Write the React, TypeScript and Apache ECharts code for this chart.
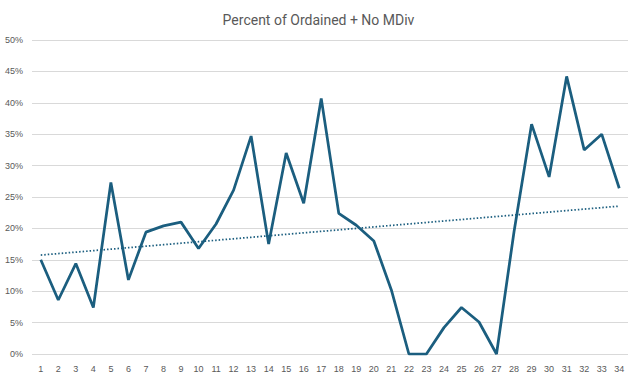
import React, { useEffect, useRef } from "react";
import * as echarts from "echarts";

const categories = Array.from({ length: 34 }, (_, i) => String(i + 1));
const values = [
  15.0, 8.6, 14.4, 7.4, 27.3, 11.8, 19.4, 20.4, 21.0, 16.8,
  20.7, 26.1, 34.7, 17.5, 32.0, 24.0, 40.7, 22.4, 20.5, 18.0,
  10.2, 0, 0, 4.2, 7.4, 5.1, 0, 19.5, 36.6, 28.2,
  44.2, 32.5, 35.0, 26.4,
];
const title = "Percent of Ordained + No MDiv";

function trend(v: number[]): number[] {
  const n = v.length;
  const xs = v.map((_, i) => i + 1);
  const mx = xs.reduce((a, b) => a + b, 0) / n;
  const my = v.reduce((a, b) => a + b, 0) / n;
  let num = 0, den = 0;
  for (let i = 0; i < n; i++) {
    num += (xs[i] - mx) * (v[i] - my);
    den += (xs[i] - mx) ** 2;
  }
  const b = num / den;
  const a = my - b * mx;
  return xs.map((x) => +(a + b * x).toFixed(3));
}

export default function App() {
  const ref = useRef<HTMLDivElement>(null);
  useEffect(() => {
    const chart = echarts.init(ref.current!, null, { renderer: "svg" });
    const color = "#1b5e7f";
    chart.setOption({
      animation: false,
      backgroundColor: "#ffffff",
      title: {
        text: title,
        left: "center",
        top: 8,
        textStyle: { fontFamily: "Liberation Sans Narrow, Roboto, sans-serif", fontSize: 14, fontWeight: "normal", color: "#595959" },
      },
      grid: { left: 32, right: 9, top: 40, bottom: 29, containLabel: false },
      xAxis: {
        type: "category",
        data: categories,
        boundaryGap: true,
        axisLine: { show: false },
        axisTick: { show: false },
        axisLabel: { color: "#595959", fontSize: 9, margin: 10, interval: 0, fontFamily: "Liberation Sans, sans-serif" },
      },
      yAxis: {
        type: "value",
        min: 0,
        max: 50,
        interval: 5,
        axisLine: { show: false },
        axisTick: { show: false },
        axisLabel: { color: "#595959", fontSize: 9, margin: 9, formatter: "{value}%", fontFamily: "Liberation Sans, sans-serif" },
        splitLine: { lineStyle: { color: "#d9d9d9", width: 1 } },
      },
      series: [
        {
          type: "line",
          data: values,
          symbol: "none",
          lineStyle: { color, width: 2.75 },
          z: 3,
        },
        {
          type: "line",
          data: trend(values),
          symbol: "none",
          lineStyle: { color, width: 1.75, type: [1.5, 2] },
          z: 2,
        },
      ],
    });
    return () => chart.dispose();
  }, []);
  return <div ref={ref} style={{ width: 637, height: 383, position: "absolute", left: 0, top: 0 }} />;
}
